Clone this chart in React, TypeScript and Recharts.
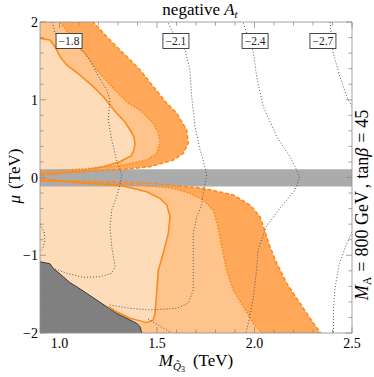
import React from 'react';
import { ComposedChart, Area, Line, XAxis, YAxis, ReferenceDot } from 'recharts';

// every row is [M_Q3 in TeV, mu in TeV]
const toPts = (rows: number[][]) => rows.map(([x, mu]) => ({ x, mu }));

const solidUpper = toPts([
  [0.9, 0.032], [1.003, 0.054], [1.131, 0.096], [1.223, 0.139], [1.31, 0.203], [1.367, 0.277],
  [1.382, 0.354], [1.387, 0.44], [1.382, 0.521], [1.362, 0.611], [1.336, 0.714], [1.293, 0.826],
  [1.259, 0.932], [1.225, 1.039], [1.173, 1.168], [1.105, 1.318], [1.037, 1.447], [1.003, 1.554],
  [0.977, 1.682], [0.951, 1.768], [0.9, 1.79],
]);
const dottedUpper = toPts([
  [0.9, 0.071], [0.986, 0.087], [1.156, 0.118], [1.327, 0.161], [1.447, 0.225], [1.498, 0.311],
  [1.515, 0.44], [1.507, 0.568], [1.481, 0.697], [1.413, 0.868], [1.353, 0.954], [1.268, 1.168],
  [1.191, 1.383], [1.131, 1.597], [1.064, 1.794], [1.003, 2.0],
]);
const dashedUpper = toPts([
  [0.9, 0.045], [1.105, 0.071], [1.327, 0.105], [1.464, 0.139], [1.584, 0.225], [1.635, 0.311],
  [1.66, 0.44], [1.652, 0.611], [1.601, 0.826], [1.55, 0.954], [1.481, 1.168], [1.413, 1.383],
  [1.327, 1.597], [1.242, 1.811], [1.173, 2.0],
]);

const solidLower = toPts([
  [0.9, -0.019], [1.156, -0.075], [1.326, -0.109], [1.447, -0.183], [1.515, -0.268], [1.55, -0.354],
  [1.567, -0.504], [1.558, -0.718], [1.532, -0.975], [1.507, -1.19], [1.498, -1.489], [1.49, -1.747],
  [1.481, -1.833], [1.447, -1.868],
]);
const solidLowerTail = toPts([[1.362, -1.811], [1.293, -1.726], [1.25, -1.662]]);
const dottedLower = toPts([
  [0.9, -0.039], [1.242, -0.084], [1.413, -0.096], [1.582, -0.139], [1.669, -0.203], [1.736, -0.289],
  [1.789, -0.418], [1.813, -0.633], [1.832, -0.89], [1.857, -1.19], [1.891, -1.447], [1.943, -1.662],
  [1.994, -1.875], [2.038, -2.0],
]);
const dashedLower = toPts([
  [0.9, -0.045], [1.242, -0.054], [1.464, -0.075], [1.737, -0.139], [1.891, -0.225], [1.977, -0.354],
  [2.028, -0.504], [2.054, -0.697], [2.079, -0.89], [2.114, -1.104], [2.165, -1.361], [2.233, -1.618],
  [2.302, -1.875], [2.339, -2.0],
]);

const excluded = toPts([
  [0.9, -1.084], [0.951, -1.109], [0.968, -1.168], [1.003, -1.241], [1.054, -1.353], [1.088, -1.404],
  [1.139, -1.489], [1.191, -1.576], [1.242, -1.662], [1.293, -1.747], [1.345, -1.811], [1.396, -1.875],
  [1.413, -1.919], [1.422, -2.0],
]);

const bandMu = [-0.115, 0.105];
const band = bandMu.map((mu) => ({ x: 2.5, mu }));

// dotted contours of the stop mixing
const c18 = toPts([
  [0.963, 2.0], [0.977, 1.855], [1.122, 1.618], [1.156, 1.511], [1.182, 1.383], [1.216, 1.232],
  [1.242, 1.125], [1.259, 0.997], [1.25, 0.74], [1.268, 0.482], [1.293, 0.225], [1.319, 0.032],
  [1.31, -0.096], [1.293, -0.247], [1.268, -0.418], [1.259, -0.633], [1.268, -0.89], [1.285, -1.147],
  [1.268, -1.232], [1.208, -1.276], [1.122, -1.284], [1.037, -1.232], [0.968, -1.168],
]);
const c18edge = toPts([[0.9, -0.598], [0.921, -0.701], [0.926, -0.804], [0.913, -0.92], [0.9, -0.958]]);
const c21 = toPts([
  [1.558, 1.983], [1.6, 1.76], [1.644, 1.64], [1.669, 1.383], [1.678, 1.039], [1.695, 0.653],
  [1.721, 0.354], [1.737, 0.225], [1.755, 0.032], [1.737, -0.203], [1.729, -0.354], [1.704, -0.504],
  [1.686, -0.718], [1.686, -1.104], [1.686, -1.447], [1.66, -1.618], [1.601, -1.682], [1.464, -1.704],
  [1.362, -1.682], [1.259, -1.64],
]);
const c21b = toPts([[1.454, -1.82], [1.515, -1.911], [1.567, -1.987]]);
const c24 = toPts([
  [1.943, 1.983], [1.994, 1.618], [2.011, 1.296], [2.045, 0.911], [2.114, 0.525], [2.182, 0.268],
  [2.216, 0.096], [2.231, 0.006], [2.208, -0.161], [2.131, -0.392], [2.059, -0.637], [2.018, -0.932],
  [2.008, -1.254], [1.992, -1.576], [1.972, -1.833], [1.956, -2.0],
]);
const c27a = toPts([[2.387, 2.0], [2.404, 1.597], [2.438, 1.296], [2.473, 1.039], [2.5, 0.911]]);
const c27b = toPts([[2.5, -0.701], [2.464, -0.907], [2.433, -1.125], [2.413, -1.421], [2.405, -1.704], [2.405, -2.0]]);
const contours = [c18, c18edge, c21, c21b, c24, c27a, c27b];

const contourLabels = [
  { text: '\u22121.8', x: 1.049, mu: 1.756 },
  { text: '\u22122.1', x: 1.597, mu: 1.756 },
  { text: '\u22122.4', x: 2.003, mu: 1.756 },
  { text: '\u22122.7', x: 2.351, mu: 1.756 },
];

const xMajor = [1.0, 1.5, 2.0, 2.5];
const xTicks = [1.0, 1.1, 1.2, 1.3, 1.4, 1.5, 1.6, 1.7, 1.8, 1.9, 2.0, 2.1, 2.2, 2.3, 2.4, 2.5];
const yMajor = [-2, -1, 0, 1, 2];
const yTicks = [-2, -1.8, -1.6, -1.4, -1.2, -1, -0.8, -0.6, -0.4, -0.2, 0, 0.2, 0.4, 0.6, 0.8, 1, 1.2, 1.4, 1.6, 1.8, 2];

const FONT = '"Liberation Serif", "DejaVu Serif", serif';
const LIGHT = '#ffdcb9';
const MED = '#ffc48b';
const DARK = '#ffa85a';
const ORANGE = '#ff8a1a';
const FRAME = '#8c8c8c';
const CONTOUR = '#555';

const isMajor = (list: number[], v: number) => list.some((m) => Math.abs(m - v) < 1e-6);
const minus = (v: number) => (v < 0 ? '\u2212' + Math.abs(v) : String(v));

const BottomTick = ({ x, y, payload }: any) => {
  const major = isMajor(xMajor, payload.value);
  return (
    <g>
      <line x1={x} x2={x} y1={y} y2={y - (major ? 6 : 3.5)} stroke={FRAME} strokeWidth={0.8} />
      {major && (
        <text x={x} y={y + 15} textAnchor="middle" fontSize={14} fontFamily={FONT} fill="#000">
          {payload.value.toFixed(1)}
        </text>
      )}
    </g>
  );
};
const TopTick = ({ x, y, payload }: any) => (
  <line x1={x} x2={x} y1={y} y2={y + (isMajor(xMajor, payload.value) ? 6 : 3.5)} stroke={FRAME} strokeWidth={0.8} />
);
const LeftTick = ({ x, y, payload }: any) => {
  const major = isMajor(yMajor, payload.value);
  return (
    <g>
      <line x1={x} x2={x + (major ? 6 : 3.5)} y1={y} y2={y} stroke={FRAME} strokeWidth={0.8} />
      {major && (
        <text x={x - 2} y={y + 5} textAnchor="end" fontSize={14} fontFamily={FONT} fill="#000">
          {minus(payload.value)}
        </text>
      )}
    </g>
  );
};
const RightTick = ({ x, y, payload }: any) => (
  <line x1={x} x2={x - (isMajor(yMajor, payload.value) ? 6 : 3.5)} y1={y} y2={y} stroke={FRAME} strokeWidth={0.8} />
);

const LabelBox = (text: string) => (props: any) => (
  <g>
    <rect x={props.cx - 13} y={props.cy - 7.5} width={26} height={15} fill="#fff" stroke="#333" strokeWidth={0.9} />
    <text x={props.cx} y={props.cy + 4} textAnchor="middle" fontSize={11.5} fontFamily={FONT} fill="#222">
      {text}
    </text>
  </g>
);

const fill = (data: any[], color: string, key: string, stroke = 'none', sw = 0) => (
  <Area
    key={key}
    data={data}
    dataKey="x"
    type="linear"
    baseValue={0.9}
    fill={color}
    fillOpacity={1}
    stroke={stroke}
    strokeWidth={sw}
    isAnimationActive={false}
  />
);

const edge = (data: any[], key: string, dash?: string, color = ORANGE, width = 1.6) => (
  <Line
    key={key}
    data={data}
    dataKey="x"
    type="linear"
    stroke={color}
    strokeWidth={width}
    strokeDasharray={dash}
    dot={false}
    activeDot={false}
    isAnimationActive={false}
  />
);

export default function App() {
  return (
    <div style={{ position: 'absolute', left: 0, top: 0, width: 374, height: 377 }}>
      <ComposedChart
        width={374}
        height={377}
        layout="vertical"
        margin={{ top: 21, right: 21, bottom: 43, left: 39 }}
      >
        {fill(dashedUpper, DARK, 'du')}
        {fill(dottedUpper, MED, 'mu')}
        {fill(solidUpper, LIGHT, 'lu')}
        {fill(dashedLower, DARK, 'dl')}
        {fill(dottedLower, MED, 'ml')}
        {fill(solidLower, LIGHT, 'll')}
        {fill(band, '#ababab', 'band')}
        {fill(excluded, '#808080', 'ex', '#1a1a1a', 0.8)}

        {edge(solidUpper, 'su')}
        {edge(dottedUpper, 'ou', '1.6 1.6')}
        {edge(dashedUpper, 'au', '4 2')}
        {edge([...solidLower, ...solidLowerTail], 'sl')}
        {edge(dottedLower, 'ol', '1.6 1.6')}
        {edge(dashedLower, 'al', '4 2')}
        {contours.map((c, i) => edge(c, 'c' + i, '1 2', CONTOUR, 1))}

        <XAxis
          type="number"
          xAxisId={0}
          domain={[0.9, 2.5]}
          allowDataOverflow
          ticks={xTicks}
          interval={0}
          height={1}
          tickSize={0}
          tickMargin={0}
          tick={<BottomTick />}
          tickLine={false}
          axisLine={{ stroke: FRAME, strokeWidth: 0.8 }}
        />
        <XAxis
          type="number"
          xAxisId="top"
          orientation="top"
          domain={[0.9, 2.5]}
          allowDataOverflow
          ticks={xTicks}
          interval={0}
          height={1}
          tickSize={0}
          tickMargin={0}
          tick={<TopTick />}
          tickLine={false}
          axisLine={{ stroke: FRAME, strokeWidth: 0.8 }}
        />
        <YAxis
          type="number"
          yAxisId={0}
          dataKey="mu"
          domain={[-2, 2]}
          reversed
          allowDataOverflow
          ticks={yTicks}
          interval={0}
          width={1}
          tickSize={0}
          tickMargin={0}
          tick={<LeftTick />}
          tickLine={false}
          axisLine={{ stroke: FRAME, strokeWidth: 0.8 }}
        />
        <YAxis
          type="number"
          yAxisId="right"
          orientation="right"
          dataKey="mu"
          domain={[-2, 2]}
          reversed
          allowDataOverflow
          ticks={yTicks}
          interval={0}
          width={1}
          tickSize={0}
          tickMargin={0}
          tick={<RightTick />}
          tickLine={false}
          axisLine={{ stroke: FRAME, strokeWidth: 0.8 }}
        />

        {contourLabels.map((l) => (
          <ReferenceDot key={l.text} x={l.x} y={l.mu} r={0} shape={LabelBox(l.text)} ifOverflow="visible" />
        ))}
      </ComposedChart>

      <svg
        width={374}
        height={377}
        style={{ position: 'absolute', left: 0, top: 0, pointerEvents: 'none' }}
        fontFamily={FONT}
      >
        <text x={200} y={15} textAnchor="middle" fontSize={17} fill="#000">
          negative <tspan fontStyle="italic">A</tspan>
          <tspan fontStyle="italic" fontSize={11} dy={3}>t</tspan>
        </text>
        <text x={196} y={366} textAnchor="middle" fontSize={17} fill="#000">
          <tspan fontStyle="italic">M</tspan>
          <tspan fontStyle="italic" fontSize={11} dy={4}>Q̃</tspan>
          <tspan fontSize={8} dy={2}>3</tspan>
          <tspan fontSize={17} dy={-6} dx={8}>(TeV)</tspan>
        </text>
        <text transform="translate(20,176) rotate(-90)" textAnchor="middle" fontSize={17} fill="#000">
          <tspan fontStyle="italic">μ</tspan>
          <tspan dx={6}>(TeV)</tspan>
        </text>
        <text transform="translate(368,205) rotate(-90)" textAnchor="middle" fontSize={18} fill="#000">
          <tspan fontStyle="italic">M</tspan>
          <tspan fontSize={12} dy={3}>A</tspan>
          <tspan dy={-3} dx={5}>=</tspan>
          <tspan dx={5}>800 GeV</tspan>
          <tspan dx={5}>,</tspan>
          <tspan dx={5}>tan</tspan>
          <tspan fontStyle="italic">β</tspan>
          <tspan dx={5}>=</tspan>
          <tspan dx={5}>45</tspan>
        </text>
      </svg>
    </div>
  );
}
